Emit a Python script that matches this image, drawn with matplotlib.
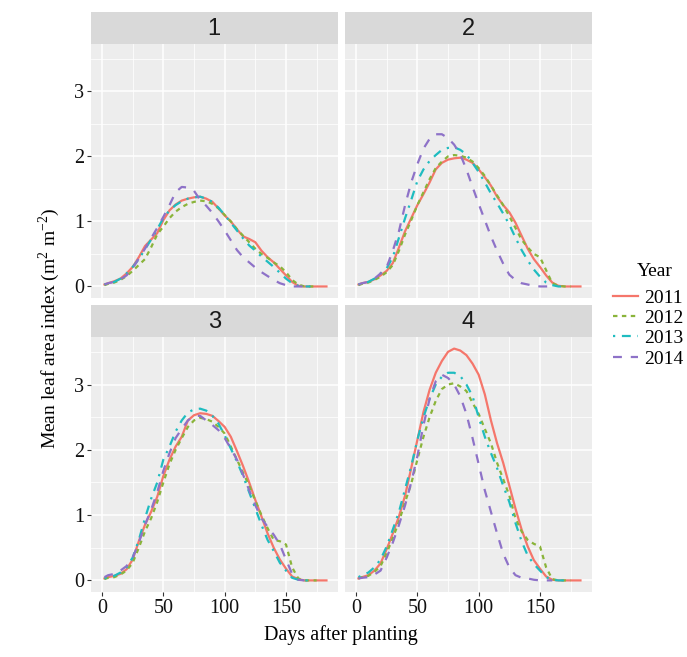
import numpy as np
import matplotlib

matplotlib.use("Agg")
import matplotlib.pyplot as plt
from matplotlib.lines import Line2D

plt.rcParams["font.family"] = ["Liberation Serif", "DejaVu Serif"]
plt.rcParams["mathtext.fontset"] = "custom"
plt.rcParams["mathtext.rm"] = "Liberation Serif"

# days after planting where the curves were read (2, 5, 10, 15, ..., 180, 183)
days = [2, 5, 10, 15, 20, 25, 30, 35, 40, 45, 50, 55, 60, 65, 70, 75, 80, 85, 90,
        95, 100, 105, 110, 115, 120, 125, 130, 135, 140, 145, 150, 155, 160, 165,
        170, 175, 180, 183]
years = ["2011", "2012", "2013", "2014"]
panels = ["1", "2", "3", "4"]

# series stop where the record ends (rest is left empty)
lai_p1_2011 = [0.03, 0.05, 0.08, 0.12, 0.2, 0.3, 0.45, 0.62, 0.72, 0.82, 1.02, 1.17, 1.26, 1.32, 1.35, 1.37, 1.38, 1.35, 1.3,
               1.2, 1.09, 1.0, 0.88, 0.77, 0.73, 0.68, 0.55, 0.45, 0.37, 0.27, 0.17, 0.07, 0.01, 0, 0, 0, 0, 0]
lai_p1_2012 = [0.02, 0.04, 0.06, 0.1, 0.16, 0.24, 0.33, 0.42, 0.6, 0.8, 0.92, 1.05, 1.15, 1.22, 1.27, 1.3, 1.32, 1.31, 1.27,
               1.2, 1.1, 1.0, 0.88, 0.78, 0.68, 0.58, 0.5, 0.44, 0.37, 0.31, 0.22, 0.1, 0.03, 0, 0, 0]
lai_p1_2013 = [0.03, 0.05, 0.07, 0.12, 0.2, 0.3, 0.42, 0.57, 0.72, 0.88, 1.05, 1.17, 1.25, 1.31, 1.35, 1.37, 1.38, 1.35, 1.3,
               1.21, 1.1, 0.98, 0.86, 0.74, 0.63, 0.55, 0.46, 0.38, 0.3, 0.21, 0.12, 0.05, 0.01, 0, 0]
lai_p1_2014 = [0.03, 0.05, 0.07, 0.11, 0.17, 0.28, 0.43, 0.58, 0.74, 0.9, 1.07, 1.25, 1.45, 1.53, 1.52, 1.47, 1.33, 1.24, 1.13,
               1.0, 0.86, 0.71, 0.56, 0.45, 0.37, 0.29, 0.22, 0.16, 0.1, 0.05, 0.02, 0, 0, 0]

lai_p2_2011 = [0.03, 0.05, 0.07, 0.11, 0.17, 0.24, 0.36, 0.6, 0.85, 1.05, 1.25, 1.42, 1.6, 1.8, 1.9, 1.95, 1.97, 1.98, 1.95,
               1.9, 1.8, 1.68, 1.55, 1.38, 1.25, 1.14, 0.98, 0.78, 0.58, 0.42, 0.3, 0.17, 0.06, 0.01, 0, 0, 0, 0]
lai_p2_2012 = [0.02, 0.04, 0.06, 0.1, 0.15, 0.22, 0.33, 0.55, 0.8, 1.02, 1.25, 1.45, 1.65, 1.82, 1.92, 2.0, 2.02, 2.01, 1.98,
               1.92, 1.82, 1.7, 1.55, 1.4, 1.25, 1.08, 0.9, 0.72, 0.6, 0.5, 0.45, 0.25, 0.05, 0.01, 0, 0]
lai_p2_2013 = [0.03, 0.05, 0.07, 0.12, 0.2, 0.28, 0.45, 0.75, 1.05, 1.33, 1.62, 1.8, 1.93, 2.02, 2.1, 2.13, 2.14, 2.1, 2.03,
               1.9, 1.76, 1.6, 1.43, 1.28, 1.12, 0.95, 0.75, 0.56, 0.4, 0.26, 0.15, 0.06, 0.02, 0, 0]
lai_p2_2014 = [0.03, 0.05, 0.07, 0.12, 0.2, 0.3, 0.55, 0.85, 1.25, 1.6, 1.88, 2.12, 2.27, 2.34, 2.34, 2.28, 2.18, 2.03, 1.8,
               1.53, 1.27, 1.02, 0.77, 0.55, 0.35, 0.18, 0.1, 0.05, 0.03, 0.01, 0, 0, 0]

lai_p3_2011 = [0.03, 0.05, 0.07, 0.1, 0.17, 0.32, 0.6, 0.85, 1.05, 1.28, 1.6, 1.85, 2.05, 2.2, 2.45, 2.53, 2.56, 2.55, 2.52,
               2.44, 2.35, 2.2, 1.98, 1.75, 1.5, 1.23, 0.98, 0.72, 0.5, 0.32, 0.18, 0.06, 0.02, 0, 0, 0, 0, 0]
lai_p3_2012 = [0.02, 0.04, 0.05, 0.09, 0.15, 0.27, 0.5, 0.75, 0.95, 1.2, 1.5, 1.78, 2.0, 2.18, 2.35, 2.45, 2.49, 2.47, 2.43,
               2.35, 2.25, 2.05, 1.85, 1.65, 1.45, 1.22, 1.0, 0.8, 0.62, 0.6, 0.55, 0.2, 0.03, 0, 0, 0]
lai_p3_2013 = [0.03, 0.05, 0.07, 0.12, 0.2, 0.35, 0.62, 0.95, 1.25, 1.5, 1.85, 2.05, 2.28, 2.45, 2.57, 2.62, 2.63, 2.6, 2.52,
               2.4, 2.22, 2.02, 1.82, 1.6, 1.35, 1.1, 0.85, 0.62, 0.45, 0.27, 0.15, 0.04, 0.01, 0, 0]
lai_p3_2014 = [0.05, 0.08, 0.1, 0.15, 0.22, 0.35, 0.58, 0.85, 1.08, 1.35, 1.68, 1.95, 2.18, 2.32, 2.45, 2.52, 2.52, 2.45, 2.38,
               2.3, 2.18, 2.02, 1.85, 1.62, 1.38, 1.15, 0.95, 0.82, 0.7, 0.55, 0.32, 0.1, 0.01, 0]

lai_p4_2011 = [0.03, 0.05, 0.08, 0.15, 0.26, 0.48, 0.72, 0.98, 1.3, 1.72, 2.15, 2.58, 2.92, 3.18, 3.36, 3.5, 3.55, 3.52, 3.45,
               3.32, 3.15, 2.85, 2.45, 2.1, 1.8, 1.45, 1.1, 0.78, 0.52, 0.31, 0.18, 0.06, 0.01, 0, 0, 0, 0, 0]
lai_p4_2012 = [0.03, 0.05, 0.07, 0.13, 0.22, 0.42, 0.65, 0.9, 1.2, 1.48, 1.85, 2.2, 2.5, 2.75, 2.93, 3.0, 3.02, 2.97, 2.9,
               2.72, 2.55, 2.32, 2.1, 1.8, 1.55, 1.3, 0.95, 0.75, 0.62, 0.56, 0.52, 0.2, 0.02, 0, 0, 0]
lai_p4_2013 = [0.05, 0.08, 0.12, 0.2, 0.32, 0.52, 0.78, 1.05, 1.4, 1.75, 2.15, 2.5, 2.78, 3.0, 3.12, 3.18, 3.18, 3.13, 3.0,
               2.82, 2.5, 2.2, 1.95, 1.72, 1.45, 1.2, 0.88, 0.6, 0.38, 0.25, 0.15, 0.05, 0.01, 0, 0]
lai_p4_2014 = [0.03, 0.04, 0.05, 0.09, 0.15, 0.35, 0.58, 0.85, 1.15, 1.5, 1.9, 2.38, 2.78, 3.05, 3.15, 3.1, 3.0, 2.82, 2.55,
               2.18, 1.78, 1.38, 1.05, 0.72, 0.41, 0.2, 0.08, 0.04, 0.03, 0.01, 0, 0, 0]


def pad(vals):
    return vals + [np.nan] * (len(days) - len(vals))


series = {
    "1": [lai_p1_2011, lai_p1_2012, lai_p1_2013, lai_p1_2014],
    "2": [lai_p2_2011, lai_p2_2012, lai_p2_2013, lai_p2_2014],
    "3": [lai_p3_2011, lai_p3_2012, lai_p3_2013, lai_p3_2014],
    "4": [lai_p4_2011, lai_p4_2012, lai_p4_2013, lai_p4_2014],
}

colors = ["#F5766B", "#8AB43A", "#1FBCC0", "#8E72C8"]
dash_styles = [None, (2, 2), (1, 3, 4, 3), (4, 4)]

W, H = 687, 657
fig = plt.figure(figsize=(W / 100, H / 100), dpi=100)


def px_box(x0, y0, x1, y1):
    return [x0 / W, 1 - y1 / H, (x1 - x0) / W, (y1 - y0) / H]


boxes = {
    "1": (91, 44, 337.5, 298),
    "2": (345, 44, 591.5, 298),
    "3": (91, 337, 337.5, 592),
    "4": (345, 337, 591.5, 592),
}

for name in panels:
    x0, y0, x1, y1 = boxes[name]
    ax = fig.add_axes(px_box(x0, y0, x1, y1))
    ax.set_facecolor("#EDEDED")
    for side in ax.spines.values():
        side.set_visible(False)
    ax.set_xlim(-9, 192)
    ax.set_ylim(-0.1775, 3.7275)
    ax.set_xticks([0, 50, 100, 150])
    ax.set_xticks([25, 75, 125, 175], minor=True)
    ax.set_yticks([0, 1, 2, 3])
    ax.set_yticks([0.5, 1.5, 2.5, 3.5], minor=True)
    ax.grid(which="major", color="white", lw=1.1)
    ax.grid(which="minor", color="white", lw=0.55)
    ax.set_axisbelow(True)
    ax.tick_params(which="minor", length=0)
    ax.tick_params(which="major", length=3, width=0.8, color="#333333",
                   labelsize=14.5, labelcolor="#111111", pad=2)
    if name in ("1", "3"):
        ax.set_yticklabels(["0", "1", "2", "3"])
    else:
        ax.tick_params(axis="y", length=0, labelleft=False)
    if name in ("3", "4"):
        ax.set_xticklabels(["0", "50", "100", "150"])
    else:
        ax.tick_params(axis="x", length=0, labelbottom=False)

    for vals, col, ds in zip(series[name], colors, dash_styles):
        line, = ax.plot(days, pad(vals), color=col, lw=1.6)
        if ds is not None:
            line.set_dashes(ds)

    # facet strip
    sax = fig.add_axes(px_box(x0, y0 - 32, x1, y0))
    sax.set_facecolor("#D9D9D9")
    sax.set_xticks([])
    sax.set_yticks([])
    for side in sax.spines.values():
        side.set_visible(False)
    sax.text(0.5, 0.47, name, ha="center", va="center", fontsize=17,
             family="Liberation Sans", color="#1A1A1A", transform=sax.transAxes)

fig.text(341 / W, 1 - 635 / H, "Days after planting", ha="center", va="center", fontsize=14.5)
fig.text(49 / W, 1 - 328 / H, "Mean leaf area index (m$^{2}$ m$^{-2}$)", ha="center",
         va="center", rotation=90, fontsize=14)

# legend: title drawn on its own, keys below it
fig.text(637 / W, 1 - 272 / H, "Year", ha="left", va="center", fontsize=14)
handles = []
for col, ds, yr in zip(colors, dash_styles, years):
    h = Line2D([], [], color=col, lw=1.6, label=yr)
    if ds is not None:
        h.set_dashes(ds)
    handles.append(h)
fig.legend(handles=handles, loc="upper left",
           bbox_to_anchor=(613 / W, 1 - 289 / H), frameon=False,
           fontsize=14, handlelength=1.3, handletextpad=0.3,
           labelspacing=0.14, borderaxespad=0, borderpad=0)

fig.savefig("out.png", dpi=100)
